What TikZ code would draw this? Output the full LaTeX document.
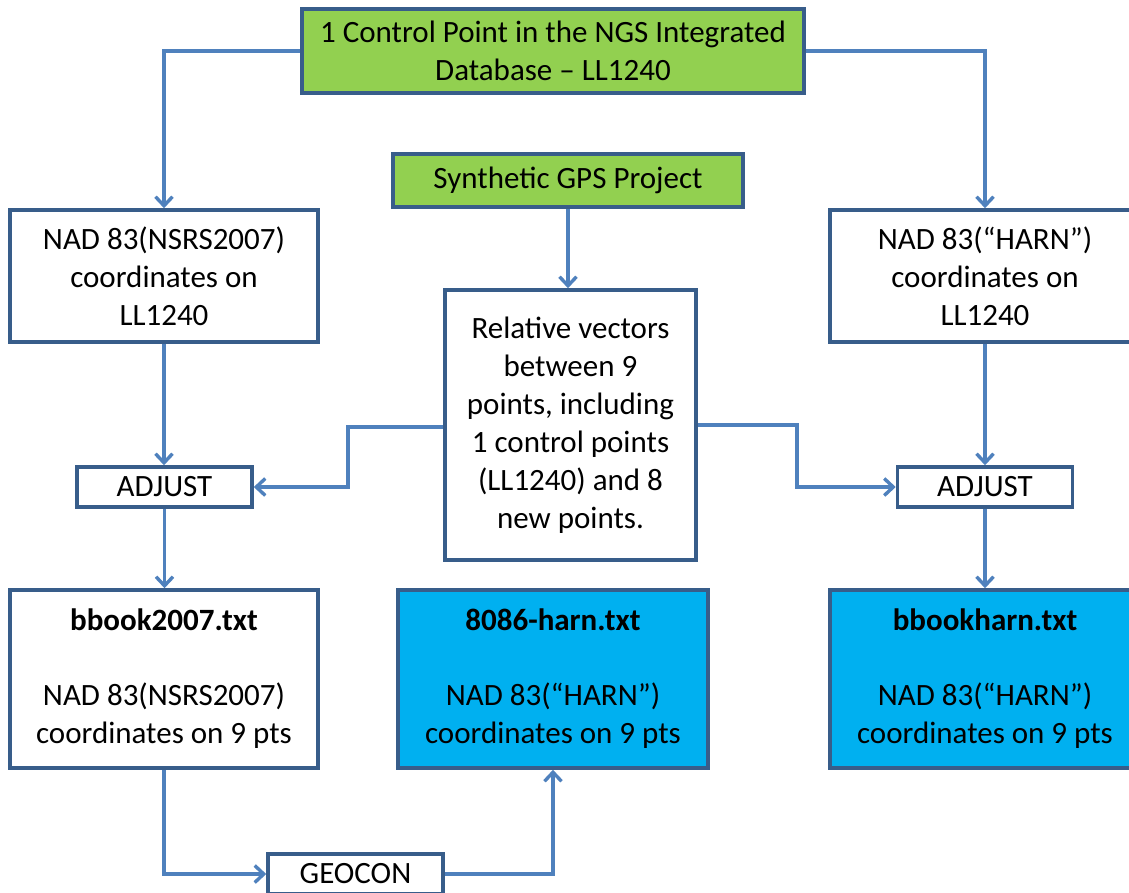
\documentclass[tikz,border=0pt]{standalone}
\usepackage{fontspec}
\setmainfont{Carlito}
\usetikzlibrary{arrows.meta}
\definecolor{bordc}{HTML}{385D8A}
\definecolor{lnkc}{HTML}{4F81BD}
\definecolor{grnc}{HTML}{92D050}
\definecolor{bluc}{HTML}{00B0F0}
\begin{document}
\begin{tikzpicture}[x=1pt,y=-1pt,
  box/.style={draw=bordc,line width=3.6pt,inner sep=0pt,align=center,
    font=\fontsize{31}{38}\selectfont,text=black,fill=white},
  arr/.style={draw=lnkc,line width=3.4pt,
    -{Straight Barb[length=9pt,width=17pt]}}]
\fill[white] (0,0) rectangle (1129,892);
\useasboundingbox (0,0) rectangle (1129,892);
\clip (0,0) rectangle (1129,892);

\node[box,fill=grnc,minimum width=502pt,minimum height=84pt] (top) at (553,51)
  {1 Control Point in the NGS Integrated\\Database -- LL1240};
\node[box,fill=grnc,minimum width=350pt,minimum height=53pt] (syn) at (568,180.5)
  {Synthetic GPS Project};
\node[box,minimum width=308pt,minimum height=132pt] (nsrs) at (164,276)
  {NAD 83(NSRS2007)\\coordinates on\\LL1240};
\node[box,minimum width=310pt,minimum height=132pt] (harn) at (985,276)
  {NAD 83(“HARN”)\\coordinates on\\LL1240};
\node[box,minimum width=251pt,minimum height=270pt] (rel) at (570.5,425)
  {Relative vectors\\between 9\\points, including\\1 control points\\(LL1240) and 8\\new points.};
\node[box,minimum width=175pt,minimum height=40pt] (adjl) at (164.5,487) {ADJUST};
\node[box,minimum width=175pt,minimum height=40pt] (adjr) at (985,487) {ADJUST};
\node[box,minimum width=308pt,minimum height=178pt] (b07) at (164,679)
  {\textbf{bbook2007.txt}\\[37pt]NAD 83(NSRS2007)\\coordinates on 9 pts};
\node[box,fill=bluc,minimum width=310pt,minimum height=178pt] (b86) at (553,679)
  {\textbf{8086-harn.txt}\\[37pt]NAD 83(“HARN”)\\coordinates on 9 pts};
\node[box,fill=bluc,minimum width=310pt,minimum height=178pt] (bh) at (985,679)
  {\textbf{bbookharn.txt}\\[37pt]NAD 83(“HARN”)\\coordinates on 9 pts};
\node[box,minimum width=175pt,minimum height=40pt] (geo) at (355.5,874) {GEOCON};

\coordinate (jl) at (348,427);
\coordinate (jr) at (797,425);

\draw[arr] (top.west) -| (nsrs.north);
\draw[arr] (top.east) -| (harn.north);
\draw[arr] (syn.south) -- (syn.south |- rel.north);
\draw[arr] (nsrs.south) -- (nsrs.south |- adjl.north);
\draw[arr] (jl -| rel.west) -- (jl) |- (adjl.east);
\draw[arr] (jr -| rel.east) -- (jr) |- (adjr.west);
\draw[arr] (harn.south) -- (adjr.north);
\draw[arr] (adjl.south) -- (adjl.south |- b07.north);
\draw[arr] (adjr.south) -- (bh.north);
\draw[arr] (b07.south) |- (geo.west);
\draw[arr] (geo.east) -| (b86.south);
\end{tikzpicture}
\end{document}
